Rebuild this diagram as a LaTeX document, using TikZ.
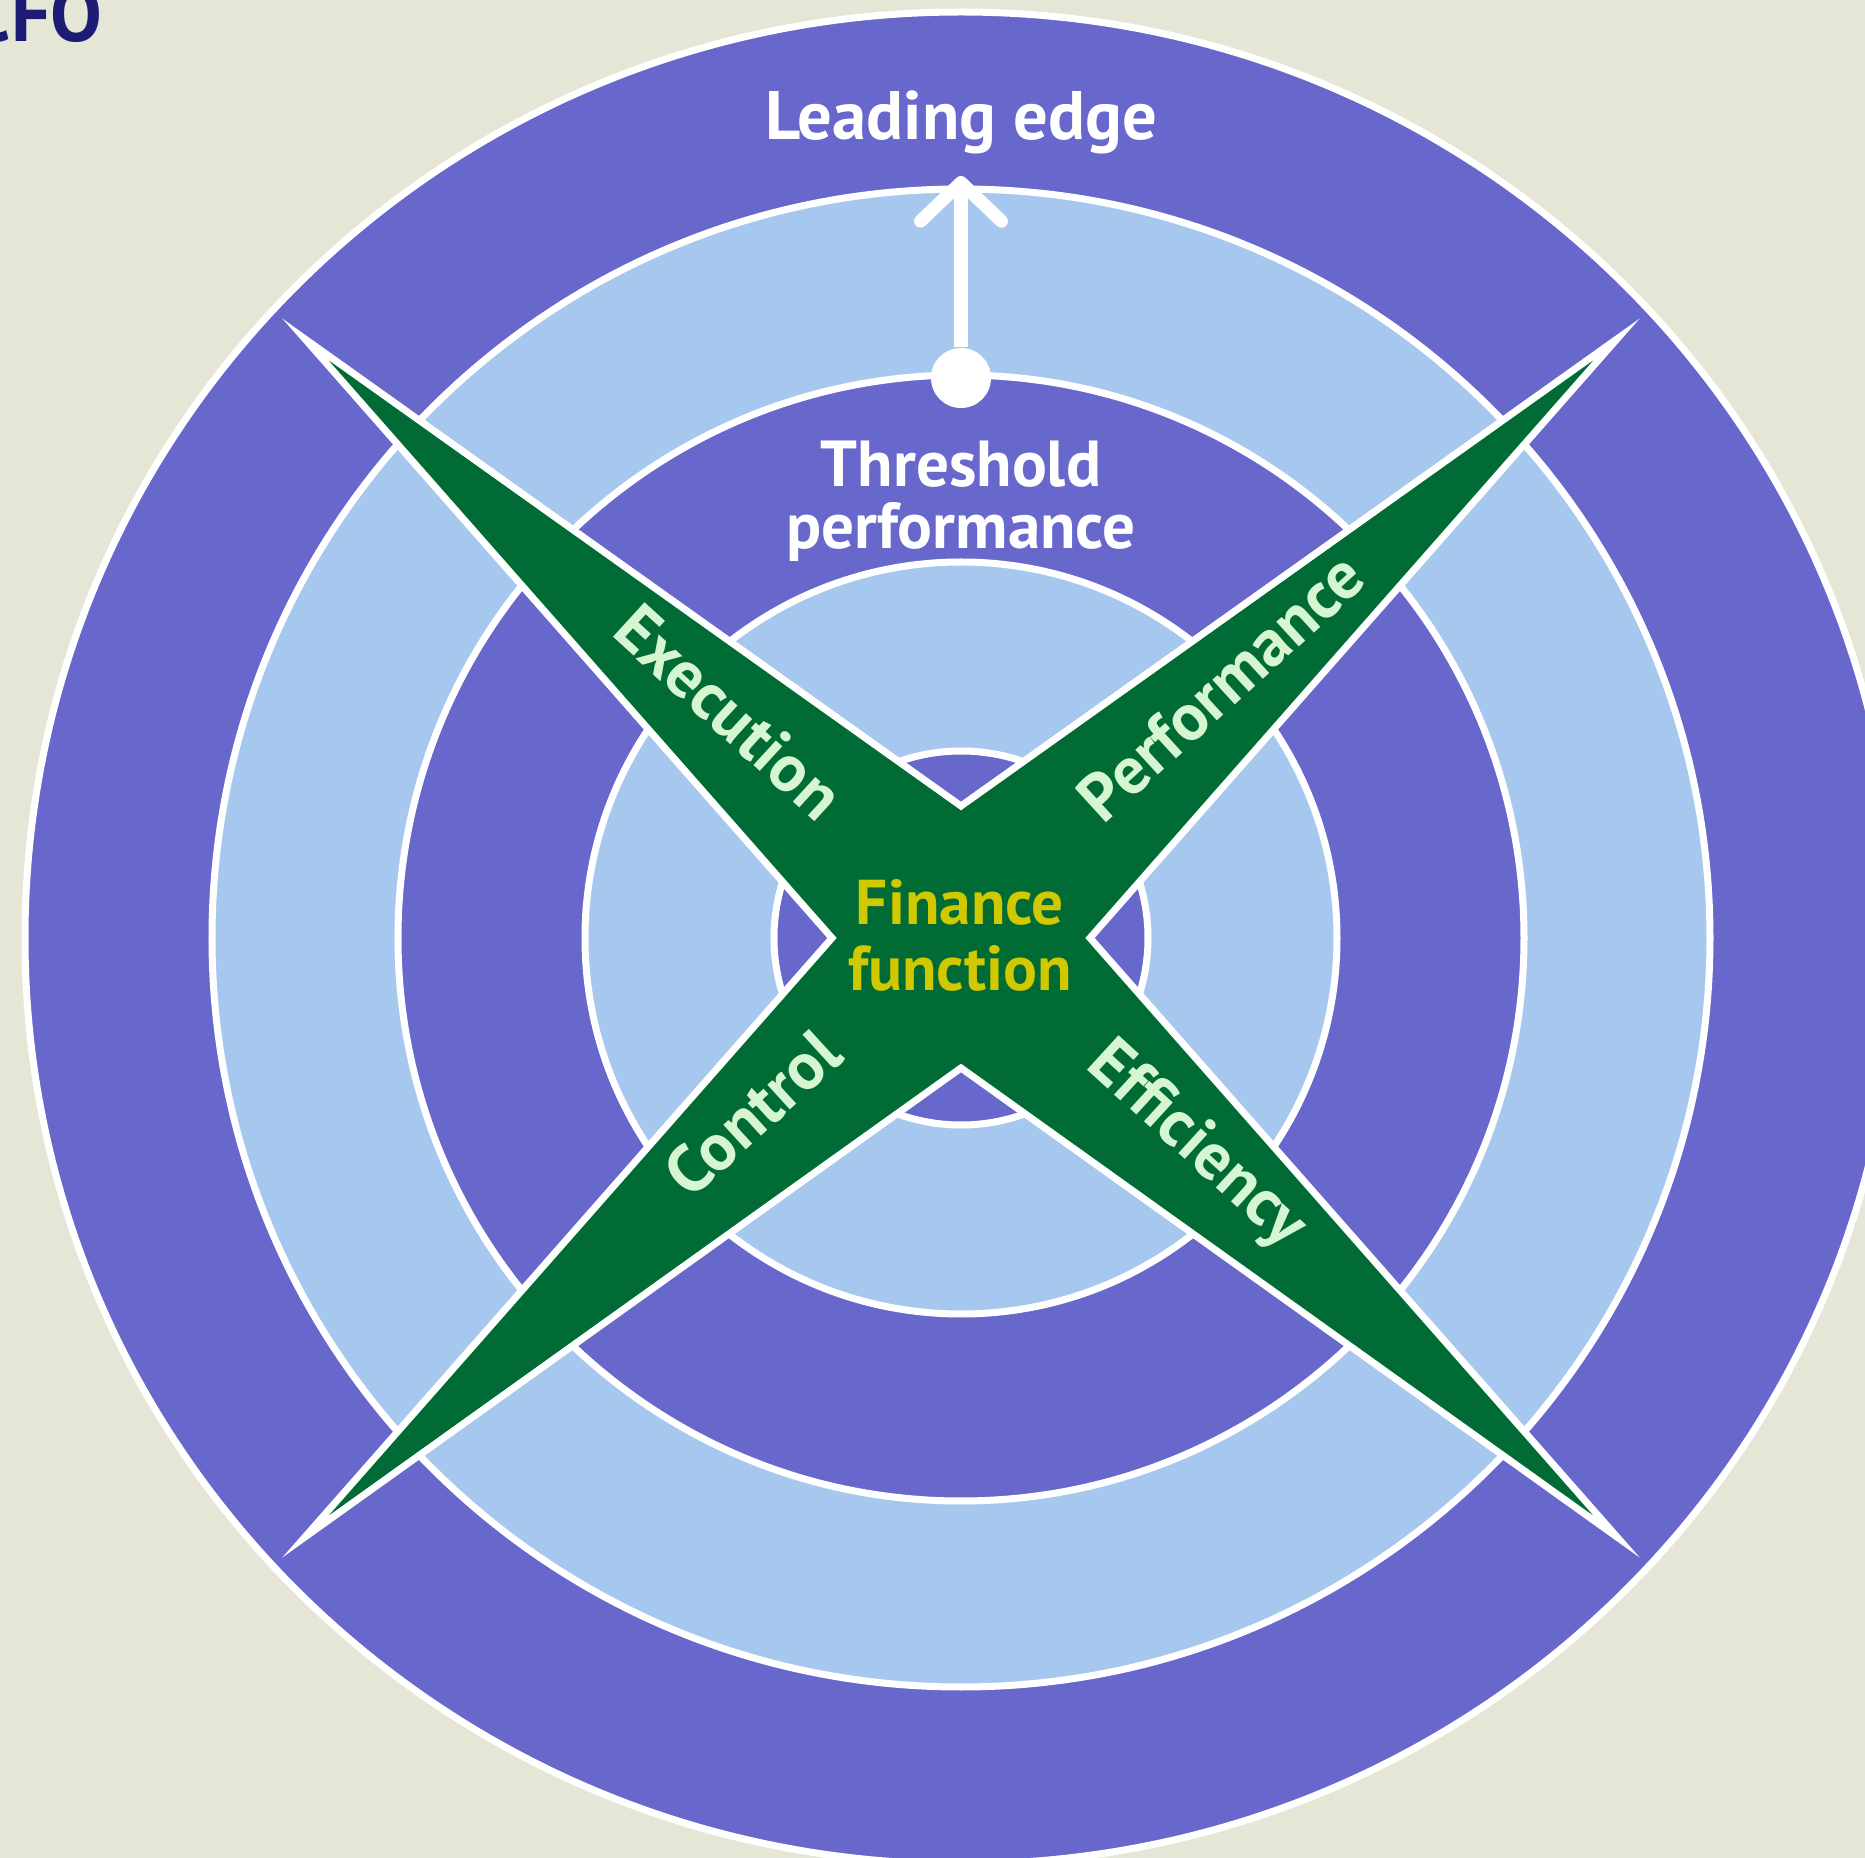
\documentclass[tikz,border=0pt]{standalone}
\usepackage{fontspec}
\setmainfont{PT Sans}
\usetikzlibrary{arrows.meta}
\definecolor{bgc}{HTML}{E6E6D7}
\definecolor{ringdark}{HTML}{6767CC}
\definecolor{ringlight}{HTML}{A7C8EE}
\definecolor{xgreen}{HTML}{006B35}
\definecolor{ffyellow}{HTML}{D0C800}
\definecolor{armtext}{HTML}{D6F6D2}
\definecolor{cfonavy}{HTML}{1C1C74}
\begin{document}
\begin{tikzpicture}[x=0.01cm,y=-0.01cm,
  ring/.style={draw=white, line width=0.07cm},
  ringlabel/.style={text=white, inner sep=0pt, align=center},
  armlabel/.style={text=armtext, inner sep=0pt, text height=0.7em, text depth=0pt,
    font=\bfseries\fontsize{19}{19}\selectfont},
  centrelabel/.style={text=ffyellow, inner sep=0pt, align=center,
    font=\bfseries\fontsize{18}{18.8}\selectfont}]
\useasboundingbox (0,0) rectangle (1865,1858);
\clip (0,0) rectangle (1865,1858);
\fill[bgc] (0,0) rectangle (1865,1858);
\coordinate (C) at (961,938);
% rings
\draw[ring, fill=ringdark]  (C) ellipse [x radius=936, y radius=926];
\draw[ring, fill=ringlight] (C) circle [radius=749];
\draw[ring, fill=ringdark]  (C) circle [radius=563];
\draw[ring, fill=ringlight] (C) circle [radius=376];
\draw[ring, fill=ringdark]  (C) circle [radius=187];
% X star
\coordinate (tTR) at (1617,339);
\coordinate (tTL) at (305,339);
\coordinate (tBR) at (1617,1537);
\coordinate (tBL) at (305,1537);
\coordinate (nT) at (961,806);
\coordinate (nR) at (1090,938);
\coordinate (nB) at (961,1068);
\coordinate (nL) at (832,938);
\draw[fill=xgreen, draw=white, line width=0.07cm, line join=miter, miter limit=12]
  (tTR) -- (nR) -- (tBR) -- (nB) -- (tBL) -- (nL) -- (tTL) -- (nT) -- cycle;
% labels
\node[ringlabel, anchor=base, font=\bfseries\fontsize{19.5}{19.5}\selectfont] (lead) at (961,140) {Leading edge};
\node[ringlabel, font=\bfseries\fontsize{18.5}{17.6}\selectfont] (thr) at (961,501) {Threshold\\performance};
\node[centrelabel] (fin) at (960,935) {Finance\\function};
\node[armlabel, rotate=-42.4] (exe) at (722,720) {Execution};
\node[armlabel, rotate=42.4] (perf) at (1228,695) {Performance};
\node[armlabel, rotate=42.4] (ctrl) at (760,1121) {Control};
\node[armlabel, rotate=-42.4] (eff) at (1193,1150) {Efficiency};
% arrow
\node[circle, fill=white, minimum size=0.6cm, inner sep=0pt] (dot) at (961,378) {};
\coordinate (arrtip) at (961,176);
\draw[white, line width=0.13cm, -{Straight Barb[length=11pt,width=23pt,round]}] (dot) -- (arrtip);
% corner title
\node[text=cfonavy, anchor=base east, inner sep=0pt, font=\bfseries\fontsize{22}{22}\selectfont] (cfo) at (103,42) {CFO};
\end{tikzpicture}
\end{document}
